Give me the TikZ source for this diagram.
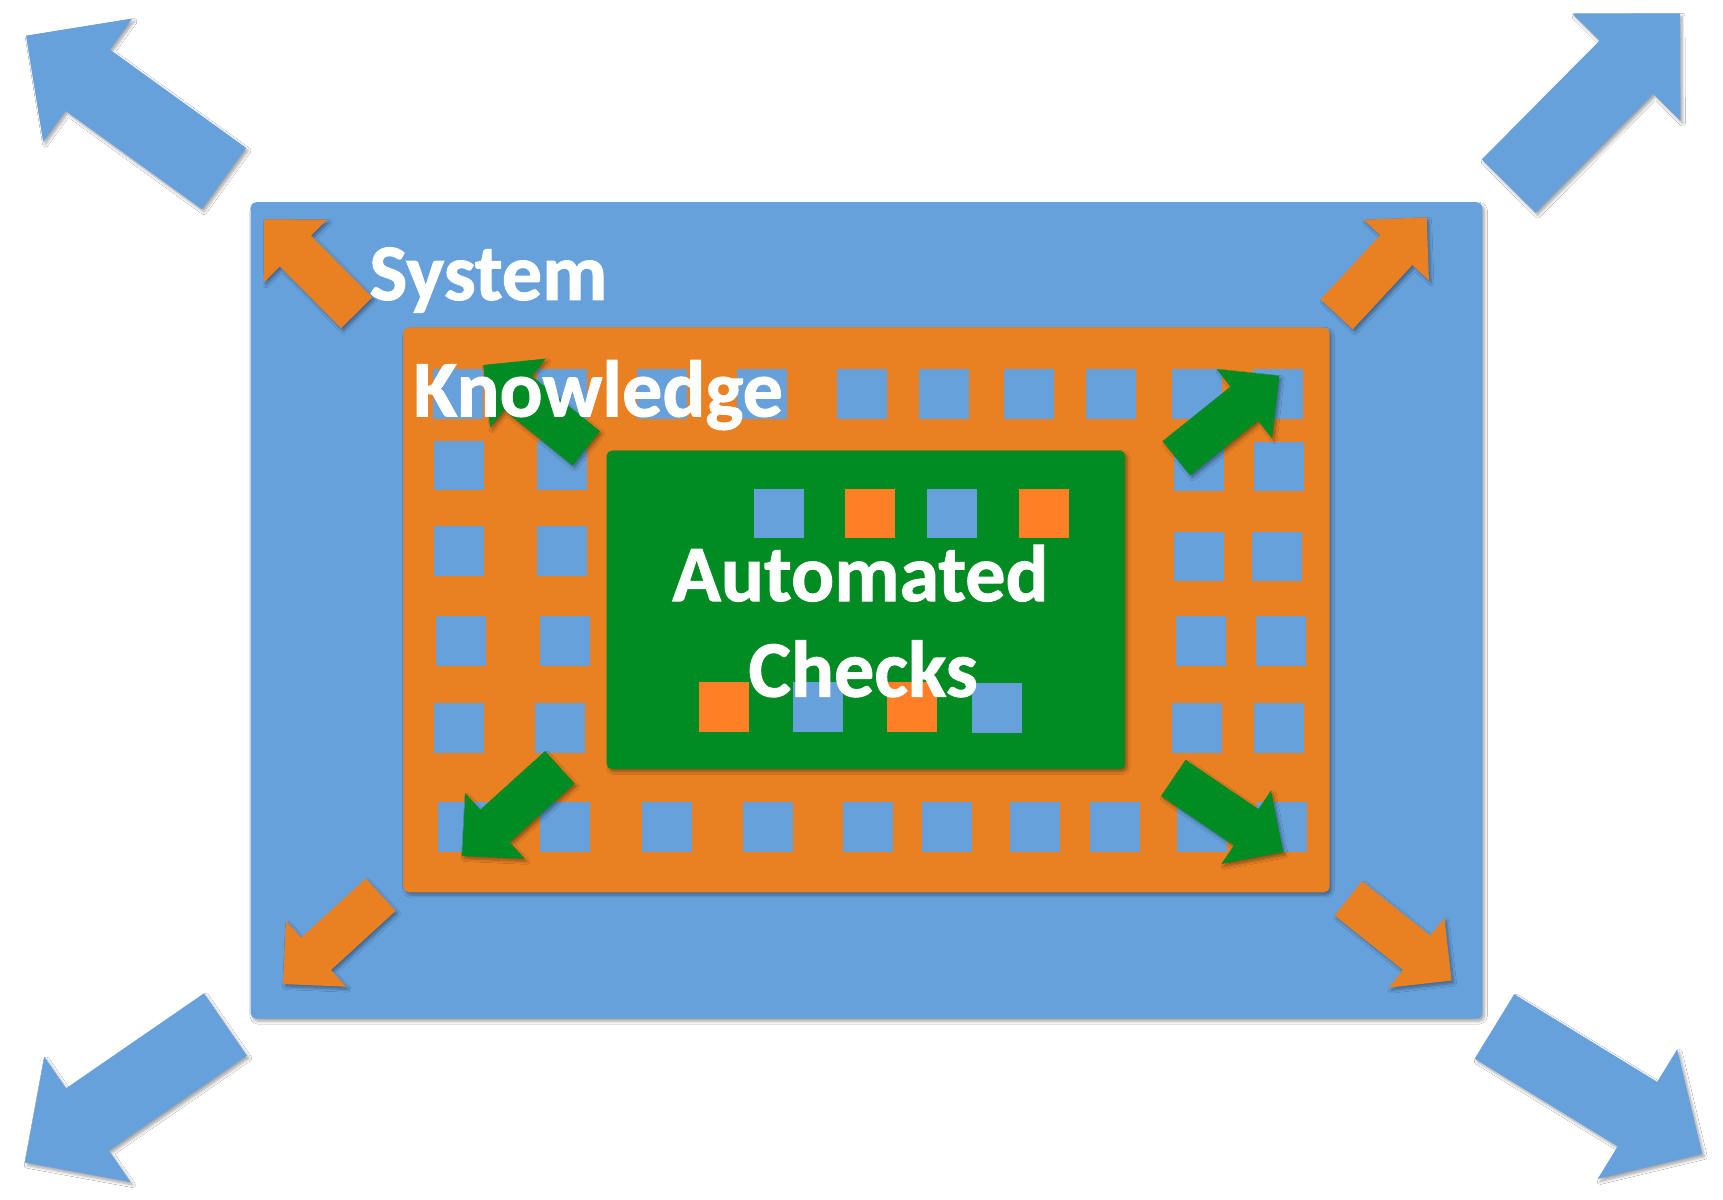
\documentclass[tikz,border=0pt]{standalone}
\usepackage{fontspec}
\setmainfont{Carlito}[BoldFeatures={FakeBold=1.2}]
\usepackage{tikz}
\usetikzlibrary{calc, shadows.blur}

\definecolor{sysblue}{RGB}{102,161,220}
\definecolor{knoworange}{RGB}{233,128,34}
\definecolor{chkorange}{RGB}{255,127,39}
\definecolor{chkgreen}{RGB}{0,139,35}

\tikzset{
  softshadow/.style={blur shadow={shadow xshift=2pt, shadow yshift=-2.5pt, shadow blur steps=6, shadow blur radius=2.5pt, shadow opacity=35}},
  layerbox/.style={rounded corners=5pt, softshadow},
  bigtext/.style={text=white, font=\bfseries\fontsize{73}{87}\selectfont, inner sep=0pt}
}

% block arrow: style, tail, tip, shaft half width, head half width, head length
\newcommand{\blockarrow}[6]{%
  \path ($(#3)!#6!(#2)$) coordinate (neck);
  \fill[#1] ($(#2)!#4!90:(#3)$) -- ($(neck)!#4!90:(#3)$) -- ($(neck)!#5!90:(#3)$) -- (#3)
    -- ($(neck)!#5!-90:(#3)$) -- ($(neck)!#4!-90:(#3)$) -- ($(#2)!#4!-90:(#3)$) -- cycle;
}

\begin{document}
\begin{tikzpicture}[x=1pt, y=-1pt]
\fill[white] (0,0) rectangle (1568,1092);
\useasboundingbox (0,0) rectangle (1568,1092);

% outer arrows
\blockarrow{sysblue, softshadow}{203.8,162.5}{23.7,32.5}{34.4pt}{69.2pt}{69.2pt}
\blockarrow{sysblue, softshadow}{1372.9,169.3}{1528.8,12.1}{34.4pt}{69.2pt}{69.2pt}
\blockarrow{sysblue, softshadow}{205.1,932.3}{22.6,1058}{34.4pt}{69.2pt}{69.2pt}
\blockarrow{sysblue, softshadow}{1360,934.1}{1549.1,1050.1}{34.4pt}{69.2pt}{69.2pt}

% system layer
\fill[sysblue, layerbox] (228,184) rectangle (1349,927);
\blockarrow{knoworange, softshadow}{324.6,284.7}{240.2,199.6}{20pt}{40.6pt}{40.7pt}
\blockarrow{knoworange, softshadow}{1216.4,286.1}{1298.3,197.8}{20pt}{40.6pt}{40.7pt}
\blockarrow{knoworange, softshadow}{346.5,814.2}{257.7,895.5}{20pt}{40.6pt}{40.7pt}
\blockarrow{knoworange, softshadow}{1227,817.5}{1321,892.4}{20pt}{40.6pt}{40.7pt}

% knowledge layer
\fill[knoworange, layerbox] (367,298) rectangle (1210,812);
\foreach \x/\y in {394/336, 489/336, 580/336, 671/336, 762/336, 836/336, 914/336, 988/336, 1067/336, 1140/336,
                   395/401, 489/401, 395/479, 489/479, 397/561, 491/561, 395/640, 487/640,
                   1068/402, 1141/402, 1068/484, 1139/484, 1070/561, 1143/561, 1067/640, 1141/640,
                   399/730, 491/730, 584/730, 676/730, 767/730, 839/730, 919/730, 992/730, 1071/730, 1144/730}
  \fill[sysblue] (\x,\y) rectangle ++(45.5,45);

% automated checks layer
\fill[chkgreen, layerbox] (552,410) rectangle (1024,700);
\fill[sysblue] (686,445) rectangle ++(45.5,45);
\fill[chkorange] (769,445) rectangle ++(45.5,45);
\fill[sysblue] (844,445) rectangle ++(45.5,45);
\fill[chkorange] (927,445) rectangle ++(45.5,45);
\fill[chkorange] (636,621) rectangle ++(45.5,45);
\fill[sysblue] (722,621) rectangle ++(45.5,45);
\fill[chkorange] (807,621) rectangle ++(45.5,45);
\fill[sysblue] (885,622) rectangle ++(45.5,45);

\blockarrow{chkgreen, softshadow}{533.5,408}{439.7,332.2}{20pt}{40.3pt}{40.7pt}
\blockarrow{chkgreen, softshadow}{1070.5,417}{1164.2,341.9}{20pt}{40.3pt}{40.7pt}
\blockarrow{chkgreen, softshadow}{509.4,698.3}{420.3,779}{20pt}{40.3pt}{40.7pt}
\blockarrow{chkgreen, softshadow}{1067.7,708}{1167.8,775.6}{20pt}{40.3pt}{40.7pt}

% labels
\node[bigtext, anchor=base west] (system) at (336,273) {System};
\node[bigtext, anchor=base west] (knowledge) at (376,379) {Knowledge};
\node[bigtext, anchor=base] (automated) at (783,547) {Automated};
\node[bigtext, anchor=base] (checks) at (785.5,634) {Checks};
\end{tikzpicture}
\end{document}
